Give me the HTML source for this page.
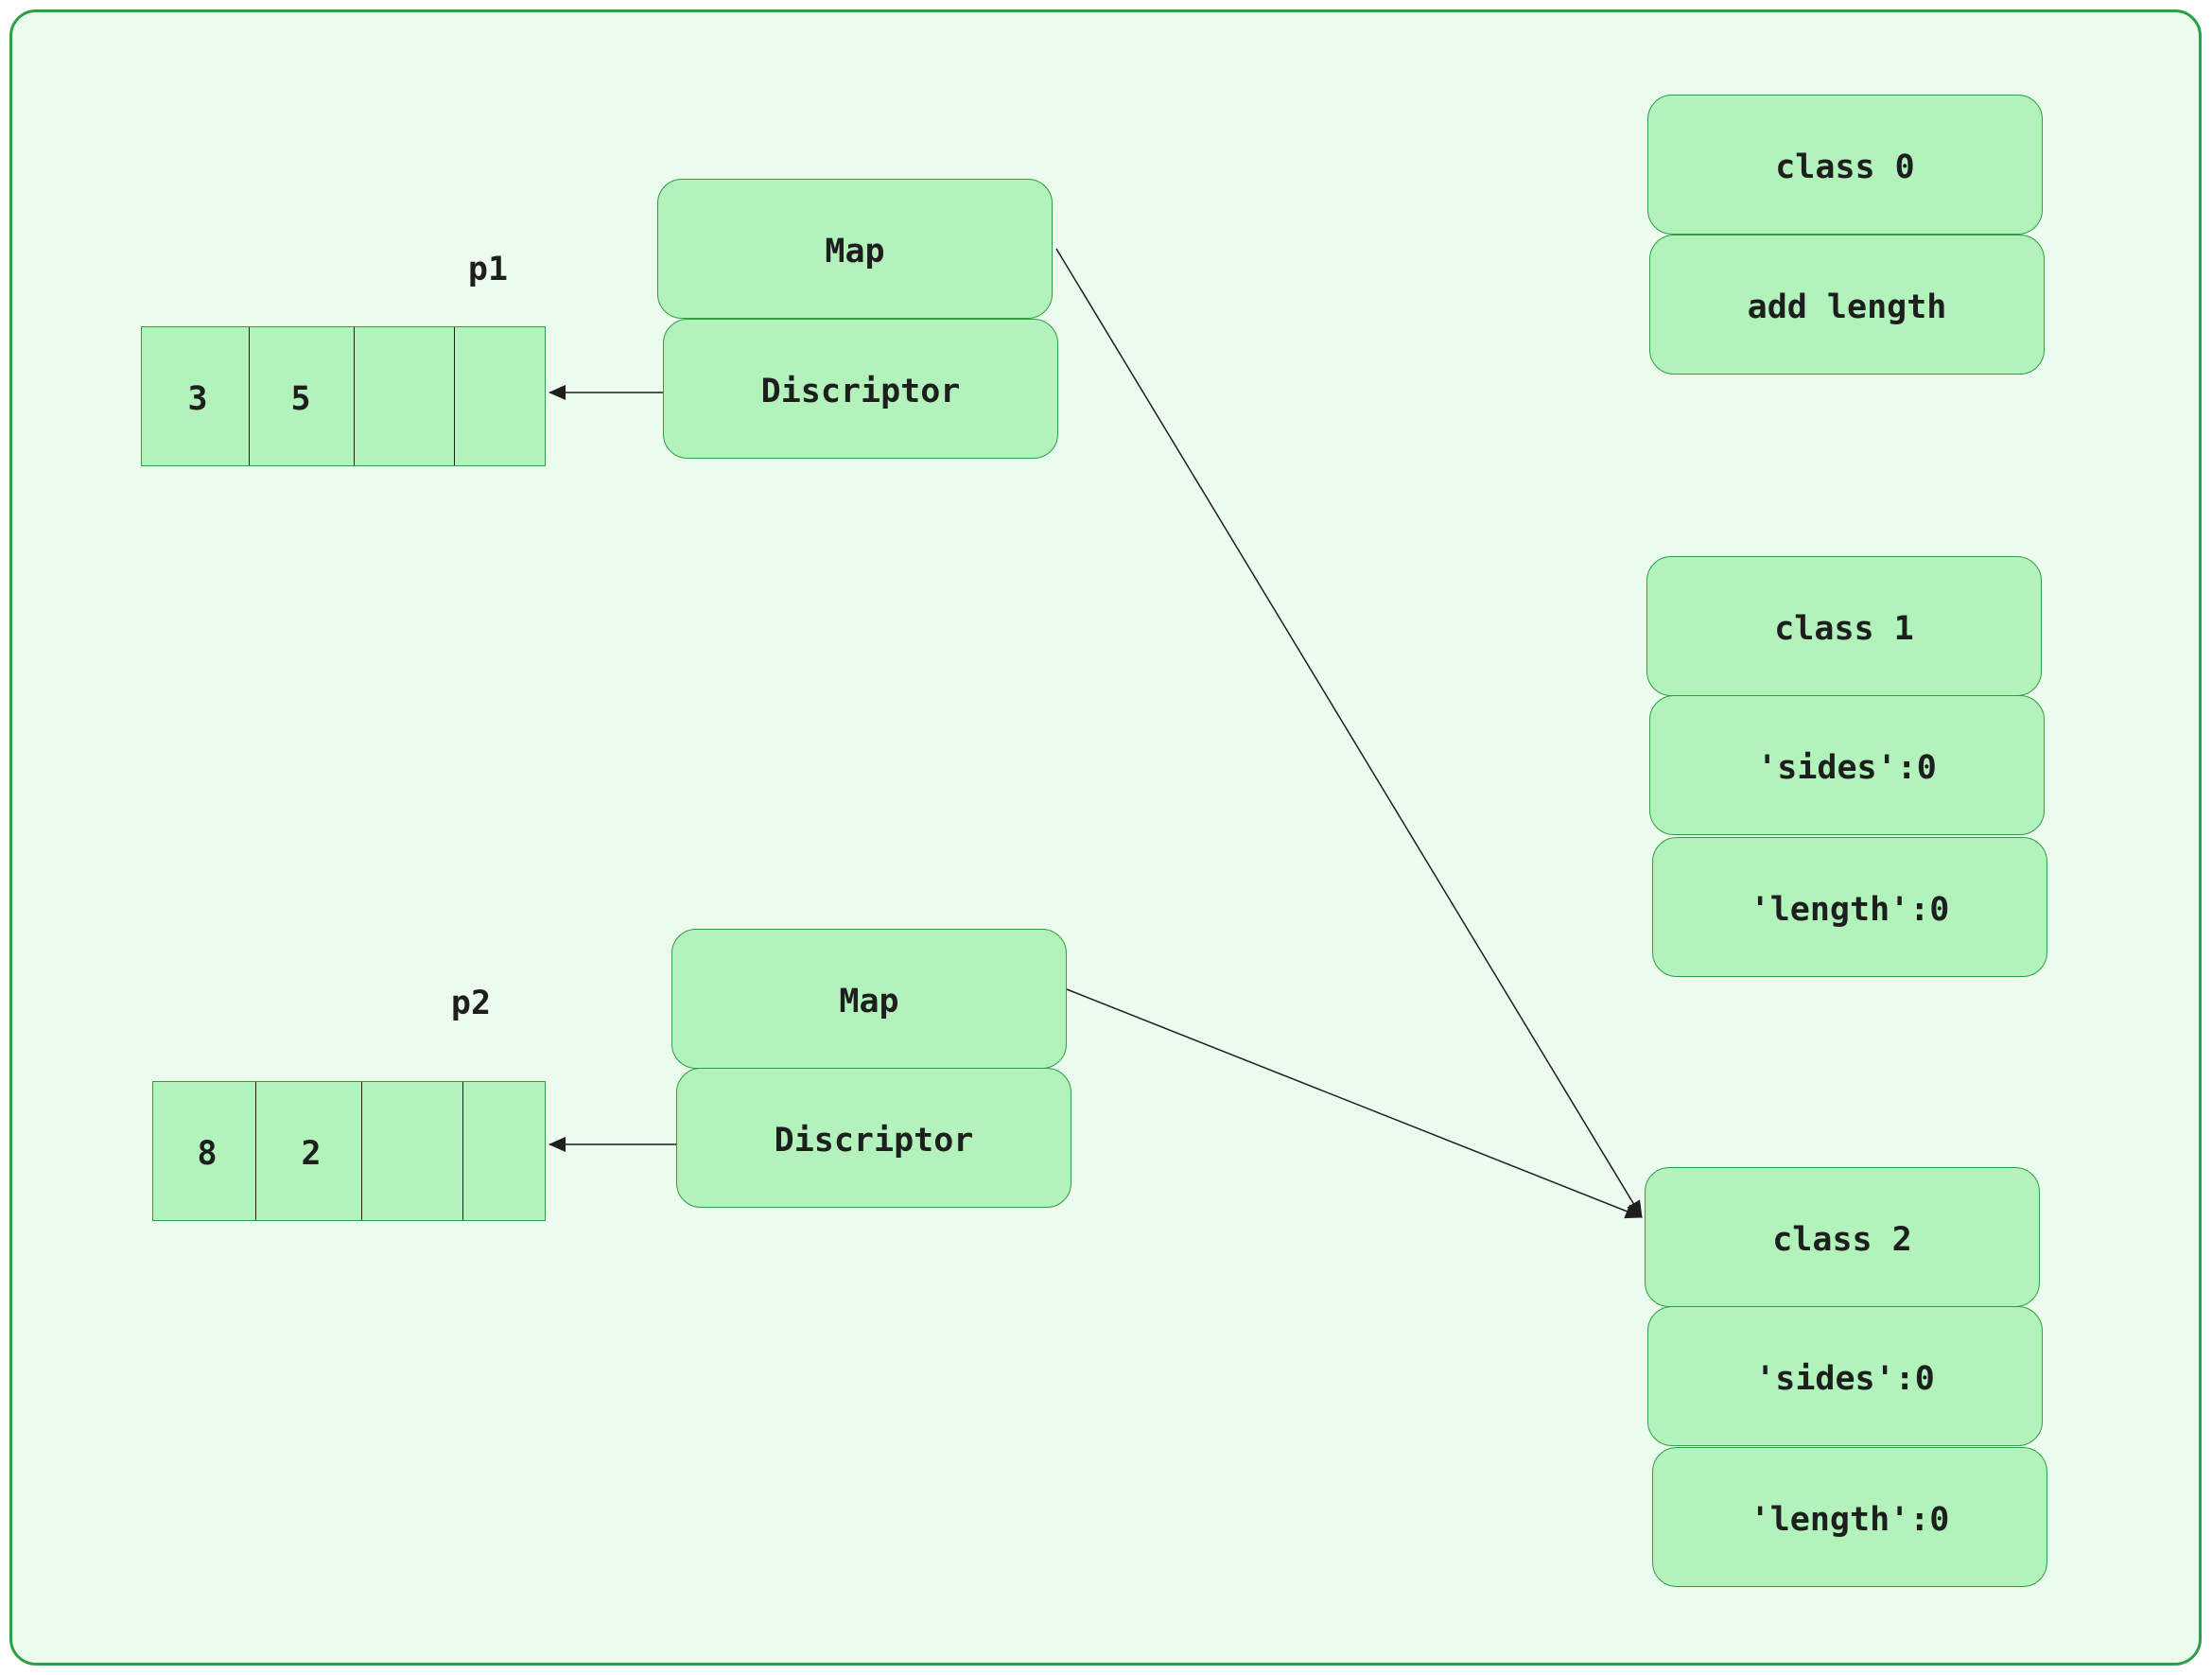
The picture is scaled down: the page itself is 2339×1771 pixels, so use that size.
<!DOCTYPE html>
<html><head><style>
body{margin:0;width:2339px;height:1771px;background:#fff;position:relative;overflow:hidden;font-family:"DejaVu Sans Mono","Liberation Mono",monospace;}
.outer{position:absolute;left:10px;top:10px;width:2312px;height:1745px;border:3.5px solid #2f9e44;border-radius:28px;background:#ebfbee;}
.b{position:absolute;width:418px;height:148px;box-sizing:border-box;border:1.5px solid #2f9e44;border-radius:26px;background:#b2f2bb;display:flex;align-items:center;justify-content:center;font-size:35px;color:#1e1e1e;padding-top:6px;font-weight:600;}
.arr{position:absolute;height:148px;box-sizing:border-box;border:1.5px solid #2f9e44;background:#b2f2bb;}
.d{position:absolute;top:0;bottom:0;width:0;border-left:1.5px solid #1e1e1e;}
.t{position:absolute;font-size:35px;color:#1e1e1e;transform:translate(-50%,-50%);font-weight:600;}
svg{position:absolute;left:0;top:0}
</style></head><body>
<div class="outer"></div>

<div class="b" style="left:695px;top:189px">Map</div>
<div class="b" style="left:701px;top:337px">Discriptor</div>
<div class="t" style="left:516px;top:285px">p1</div>
<div class="arr" style="left:149px;top:345px;width:428px">
 <div class="d" style="left:113px"></div><div class="d" style="left:224px"></div><div class="d" style="left:330px"></div>
</div>
<div class="t" style="left:209px;top:422px">3</div>
<div class="t" style="left:318px;top:422px">5</div>

<div class="b" style="left:710px;top:982px">Map</div>
<div class="b" style="left:715px;top:1129px">Discriptor</div>
<div class="t" style="left:498px;top:1061px">p2</div>
<div class="arr" style="left:161px;top:1143px;width:416px">
 <div class="d" style="left:108px"></div><div class="d" style="left:220px"></div><div class="d" style="left:327px"></div>
</div>
<div class="t" style="left:219px;top:1220px">8</div>
<div class="t" style="left:329px;top:1220px">2</div>

<div class="b" style="left:1742px;top:100px">class 0</div>
<div class="b" style="left:1744px;top:248px">add length</div>
<div class="b" style="left:1741px;top:588px">class 1</div>
<div class="b" style="left:1744px;top:735px">'sides':0</div>
<div class="b" style="left:1747px;top:885px">'length':0</div>
<div class="b" style="left:1739px;top:1234px">class 2</div>
<div class="b" style="left:1742px;top:1381px">'sides':0</div>
<div class="b" style="left:1747px;top:1530px">'length':0</div>

<svg width="2339" height="1771">
<defs>
<marker id="m2" markerWidth="18" markerHeight="16" refX="17" refY="8" orient="auto" markerUnits="userSpaceOnUse"><path d="M0,0 L18,8 L0,16 z" fill="#1e1e1e"/></marker></defs>
<line x1="701" y1="415" x2="581" y2="415" stroke="#1e1e1e" stroke-width="1.5" marker-end="url(#m2)"/>
<line x1="715" y1="1210" x2="581" y2="1210" stroke="#1e1e1e" stroke-width="1.5" marker-end="url(#m2)"/>
<line x1="1117" y1="263" x2="1736" y2="1287" stroke="#1e1e1e" stroke-width="1.5" marker-end="url(#m2)"/>
<line x1="1128" y1="1046" x2="1736" y2="1287" stroke="#1e1e1e" stroke-width="1.5" marker-end="url(#m2)"/>
</svg>
</body></html>
